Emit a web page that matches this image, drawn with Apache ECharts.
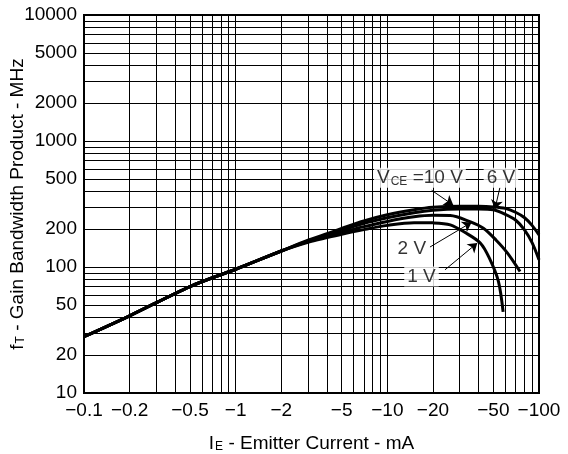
<!DOCTYPE html>
<html>
<head>
<meta charset="utf-8">
<script src="https://cdn.jsdelivr.net/npm/echarts@6/dist/echarts.min.js"></script>
<style>
  html, body { margin: 0; padding: 0; background: #fff; }
  #chart { width: 568px; height: 454px; }
</style>
</head>
<body>
<div id="chart"></div>
<script>
// emitter current magnitudes (mA, plotted as negative) and fT (MHz)
const sharedI = [0.1, 0.2, 0.5, 1, 2];
const sharedFt = [28, 41, 70, 96, 134];

const vce10I = [3, 4, 5, 7, 10, 15, 20, 30, 40, 50, 60, 70, 80, 90, 100];
const vce10Ft = [163, 184, 202, 232, 260, 285, 298, 303, 303, 300, 292, 272, 247, 214, 180];

const vce6I = [3, 4, 5, 7, 10, 15, 20, 30, 40, 50, 60, 70, 80, 90, 100];
const vce6Ft = [161, 180, 195, 222, 246, 270, 282, 288, 288, 285, 262, 236, 198, 156, 114];

const vce2I = [3, 4, 5, 7, 10, 15, 20, 26, 35, 43, 52, 62, 75];
const vce2Ft = [159, 176, 188, 209, 230, 250, 257, 256, 229, 203, 164, 129, 92];

const vce1I = [3, 4, 5, 7, 10, 15, 20, 26, 33, 41, 47, 54, 58];
const vce1Ft = [157, 171, 182, 198, 214, 225, 224, 216, 186, 155, 118, 77, 44];

const xLabels = [0.1, 0.2, 0.5, 1, 2, 5, 10, 20, 50, 100];
const yLabels = [10, 20, 50, 100, 200, 500, 1000, 2000, 5000, 10000];

// curve annotations: text position and arrow from/to
const noteText = ['V{s|CE} =10 V', '6 V', '2 V', '1 V'];
const notePos = [[16.4, 512], [56.1, 512], [14.5, 141], [16.8, 84]];
const arrowFrom = [[19.6, 406], [55.2, 426], [19.1, 144], [24, 95]];
const arrowTo = [[27.2, 310], [51.2, 288], [35.9, 226], [39.2, 155]];

const FONT = "'Liberation Sans', Arial, sans-serif";

function decadeGrid(lo, hi) {
  const out = [];
  for (let d = lo; d < hi; d *= 10) {
    for (let k = 1; k < 10; k++) out.push(+(d * k).toPrecision(3));
  }
  out.push(hi);
  return out;
}

function pairs(xs, ys) {
  return xs.map((x, i) => [x, ys[i]]);
}

const curves = [
  [vce10I, vce10Ft],
  [vce6I, vce6Ft],
  [vce2I, vce2Ft],
  [vce1I, vce1Ft],
];

const subRich = {
  s: { fontSize: 12, verticalAlign: 'bottom', fontFamily: FONT, color: '#000', padding: [0, 0, 0, 1] },
};

const chart = echarts.init(document.getElementById('chart'));

const lineSeries = curves.map(([xs, ys]) => ({
  type: 'line',
  data: pairs(sharedI, sharedFt).concat(pairs(xs, ys)),
  showSymbol: false,
  symbol: 'none',
  smooth: 0.3,
  lineStyle: { color: '#000', width: 3 },
  z: 3,
  animation: false,
}));

const option = {
  animation: false,
  grid: {
    left: 84, right: 29, top: 15, bottom: 61,
    outerBoundsMode: 'none',
    containLabel: false,
    show: true, borderColor: '#000', borderWidth: 2,
  },
  xAxis: {
    type: 'log',
    logBase: 10,
    min: 0.1,
    max: 100,
    axisLine: { lineStyle: { color: '#000', width: 2 } },
    axisTick: { show: false, customValues: decadeGrid(0.1, 100) },
    splitLine: { show: true, lineStyle: { color: '#000', width: 1 } },
    axisLabel: {
      customValues: xLabels,
      formatter: (v) => '\u2212' + v,
      margin: 8,
      fontSize: 19,
      color: '#000',
      fontFamily: FONT,
      hideOverlap: false,
    },
    name: 'I{s|E} - Emitter Current - mA',
    nameLocation: 'middle',
    nameGap: 41,
    nameMoveOverlap: false,
    nameTextStyle: { fontSize: 19, color: '#000', fontFamily: FONT, rich: subRich },
  },
  yAxis: {
    type: 'log',
    logBase: 10,
    min: 10,
    max: 10000,
    axisLine: { lineStyle: { color: '#000', width: 2 } },
    axisTick: { show: false, customValues: decadeGrid(10, 10000) },
    splitLine: { show: true, lineStyle: { color: '#000', width: 1 } },
    axisLabel: {
      customValues: yLabels,
      formatter: (v) => String(v),
      margin: 7,
      fontSize: 19,
      color: '#000',
      fontFamily: FONT,
    },
    name: 'f{s|T} - Gain Bandwidth Product - MHz',
    nameLocation: 'middle',
    nameGap: 57,
    nameMoveOverlap: false,
    nameTextStyle: { fontSize: 19, color: '#000', fontFamily: FONT, rich: subRich },
  },
  series: lineSeries.concat([{
    type: 'scatter',
    symbolSize: 1,
    itemStyle: { color: 'rgba(0,0,0,0)' },
    z: 5,
    data: notePos.map((p, i) => ({
      value: p,
      label: {
        show: true,
        position: 'inside',
        formatter: noteText[i],
        fontSize: 19,
        color: '#000',
        fontFamily: FONT,
        backgroundColor: '#fff',
        padding: [1, 3, 0, 3],
        rich: subRich,
      },
    })),
    markLine: {
      silent: true,
      symbol: ['none', 'arrow'],
      symbolSize: 9,
      label: { show: false },
      lineStyle: { color: '#000', width: 1, type: 'solid' },
      data: arrowFrom.map((p, i) => [{ coord: p }, { coord: arrowTo[i] }]),
    },
  }]),
};

chart.setOption(option);
</script>
</body>
</html>
